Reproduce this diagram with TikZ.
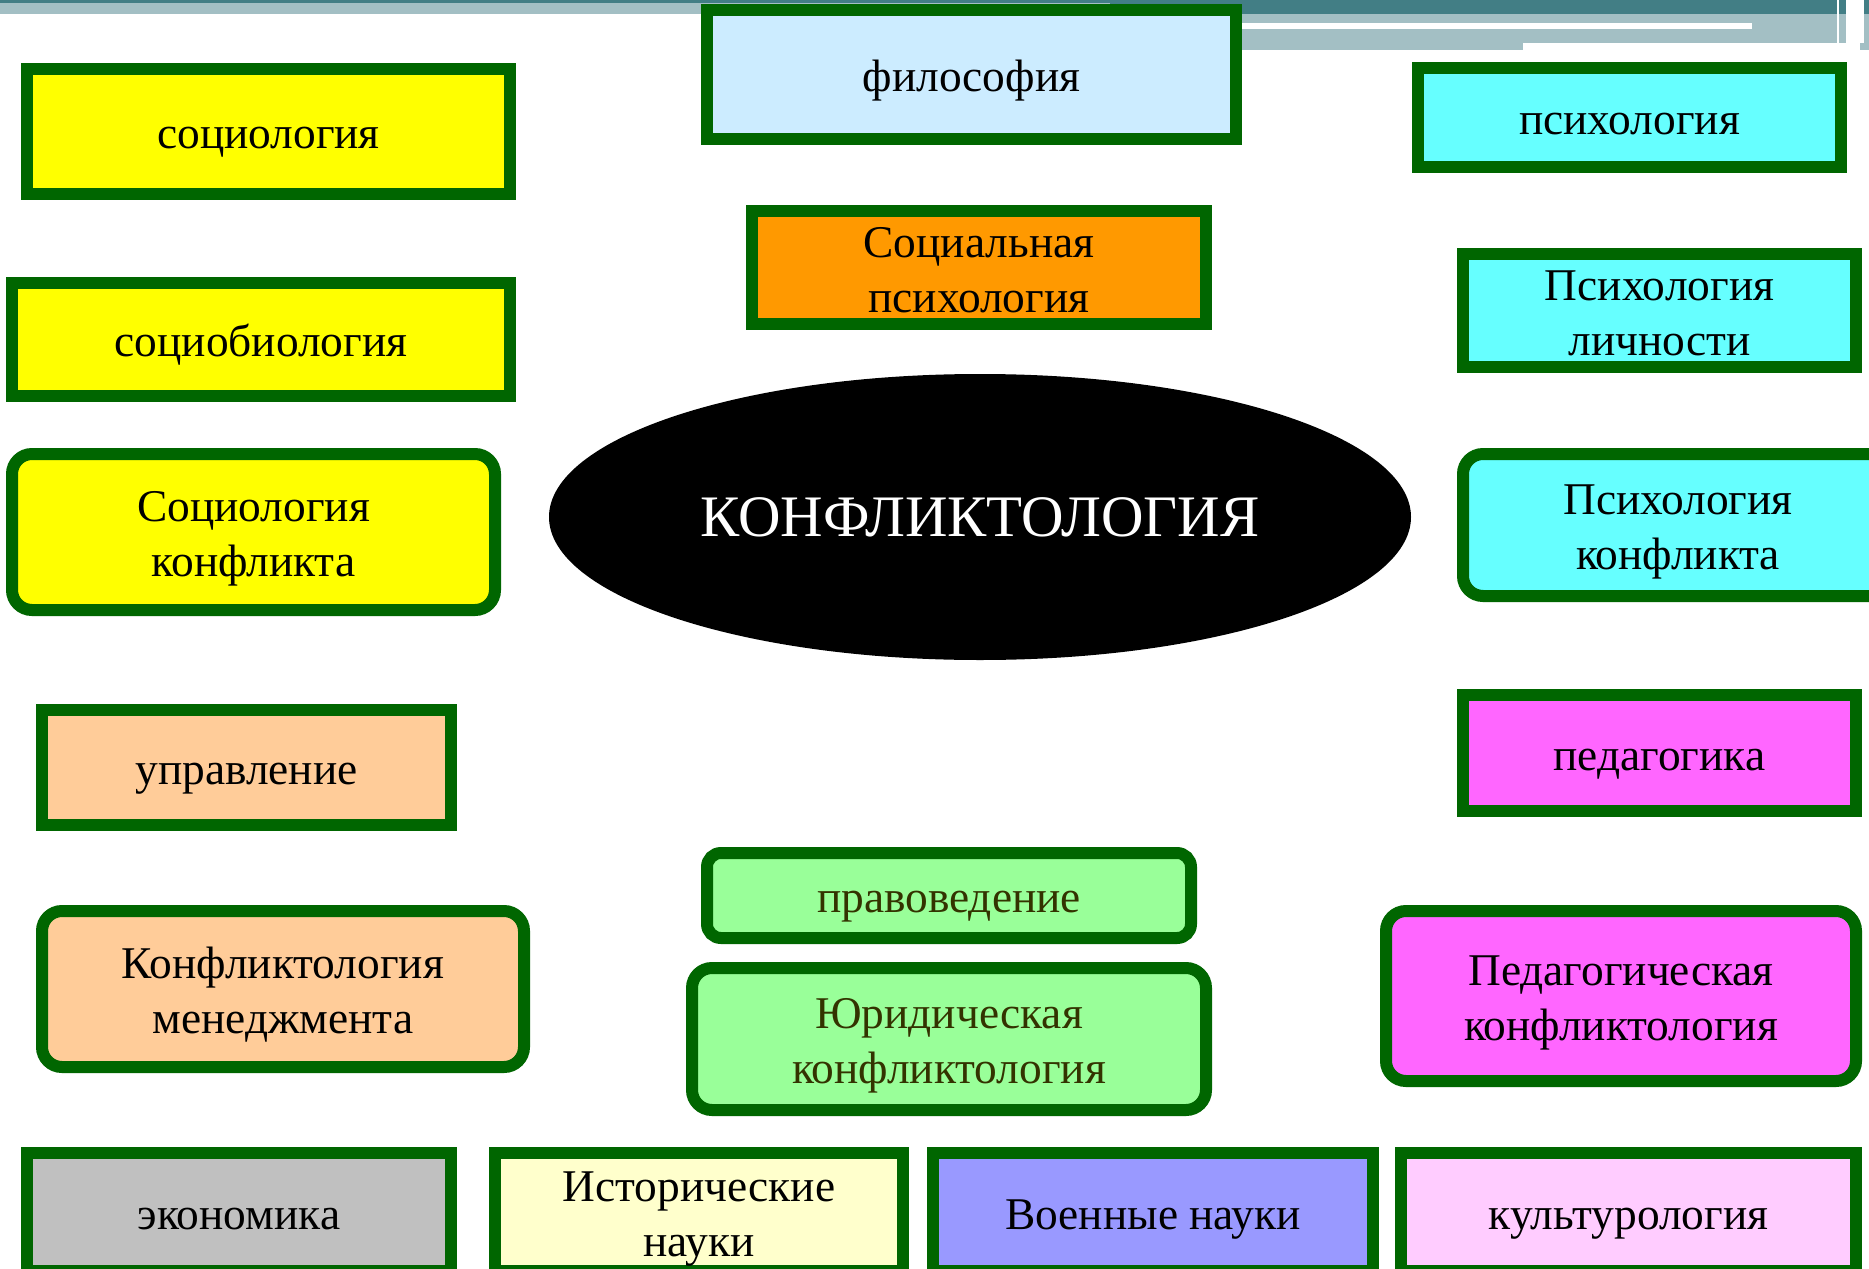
\documentclass[tikz,border=0pt]{standalone}
\usepackage{fontspec}
\setmainfont{Liberation Serif}
\usetikzlibrary{shapes.geometric}
\definecolor{bgreen}{HTML}{006600}
\definecolor{cyellow}{HTML}{FFFF00}
\definecolor{clblue}{HTML}{CCECFF}
\definecolor{ccyan}{HTML}{66FFFF}
\definecolor{corange}{HTML}{FF9900}
\definecolor{cpeach}{HTML}{FFCC99}
\definecolor{cmagenta}{HTML}{FF66FF}
\definecolor{clgreen}{HTML}{99FF99}
\definecolor{cgray}{HTML}{C0C0C0}
\definecolor{clyellow}{HTML}{FFFFCC}
\definecolor{clav}{HTML}{9999FF}
\definecolor{cpink}{HTML}{FFCCFF}
\definecolor{olivetext}{HTML}{333300}
\definecolor{tealdark}{HTML}{427E85}
\definecolor{teallight}{HTML}{A3BFC4}
\newcommand\topstrut{\rule{0pt}{1.0em}}
\tikzset{
  geom/.style n args={4}{minimum width={(#3-#1-12)*0.5pt}, minimum height={(#4-#2-12)*0.5pt}, at={({(#1+#3)/2},{(#2+#4)/2})}},
  bx/.style={draw=bgreen, line width=6pt, inner sep=0pt, align=center, text=black,
    font=\fontsize{22.7}{27.5}\selectfont,
    execute at begin node={\rule{0pt}{1.0em}},
    execute at end node={\rule[-0.24em]{0pt}{0pt}}},
  rbx/.style={bx, rounded corners=10pt},
  gtext/.style={text=olivetext}
}
\begin{document}
\begin{tikzpicture}[x=0.5pt,y=-0.5pt]
\useasboundingbox (0,0) rectangle (1869,1269);
\clip (0,0) rectangle (1869,1269);
\fill[white] (0,0) rectangle (1869,1269);
% top decoration
\fill[tealdark] (0,0) rectangle (1110,3);
\fill[teallight] (0,3) rectangle (1110,14);
\fill[tealdark] (1110,0) rectangle (1869,14);
\fill[teallight] (1110,14) rectangle (1869,50);
\fill[white] (1110,23) rectangle (1752,29);
\fill[white] (1523,43) rectangle (1860,50);
\fill[white] (1846,0) rectangle (1864,43);
\fill[white] (1837,0) rectangle (1838.5,43);
% boxes
\node[bx, fill=cyellow, geom={21}{63}{516}{200}] (soc) {социология};
\node[bx, fill=clblue, geom={701}{4}{1242}{145}] (phil) {философия};
\node[bx, fill=ccyan, geom={1412}{62}{1847}{173}] (psy) {психология};
\node[bx, fill=corange, geom={746}{205}{1212}{330}] (socpsy) {\topstrut Социальная\\психология};
\node[bx, fill=cyellow, geom={6}{277}{516}{402}] (sbio) {социобиология};
\node[bx, fill=ccyan, geom={1457}{248}{1862}{373}] (psyl) {\topstrut Психология\\личности};
\node[rbx, fill=cyellow, geom={6}{448}{501}{616}] (sock) {\topstrut Социология\\конфликта};
\node[rbx, fill=ccyan, geom={1457}{448}{1899}{602}] (psyk) {\topstrut Психология\\конфликта};
\node[ellipse, fill=black, text=white, inner sep=0pt, minimum width=431pt, minimum height=143pt, font=\fontsize{29.4}{34}\selectfont] at (980,517) (konf) {КОНФЛИКТОЛОГИЯ};
\node[bx, fill=cpeach, geom={36}{704}{457}{831}] (upr) {управление};
\node[bx, fill=cmagenta, geom={1457}{689}{1862}{817}] (ped) {педагогика};
\node[rbx, rounded corners=7pt, fill=clgreen, gtext, geom={701}{847}{1197}{944}] (prav) {правоведение};
\node[rbx, fill=cpeach, geom={36}{905}{530}{1073}] (kmen) {\topstrut Конфликтология\\менеджмента};
\node[rbx, fill=clgreen, gtext, geom={686}{962}{1212}{1116}] (yur) {\topstrut Юридическая\\конфликтология};
\node[rbx, fill=cmagenta, geom={1380}{905}{1862}{1087}] (pedk) {\topstrut Педагогическая\\конфликтология};
\node[bx, fill=cgray, geom={21}{1147}{457}{1277}] (eko) {экономика};
\node[bx, fill=clyellow, geom={489}{1147}{909}{1277}] (ist) {\topstrut Исторические\\науки};
\node[bx, fill=clav, geom={927}{1147}{1379}{1277}] (voen) {Военные науки};
\node[bx, fill=cpink, geom={1395}{1147}{1862}{1277}] (kult) {культурология};
\end{tikzpicture}
\end{document}
